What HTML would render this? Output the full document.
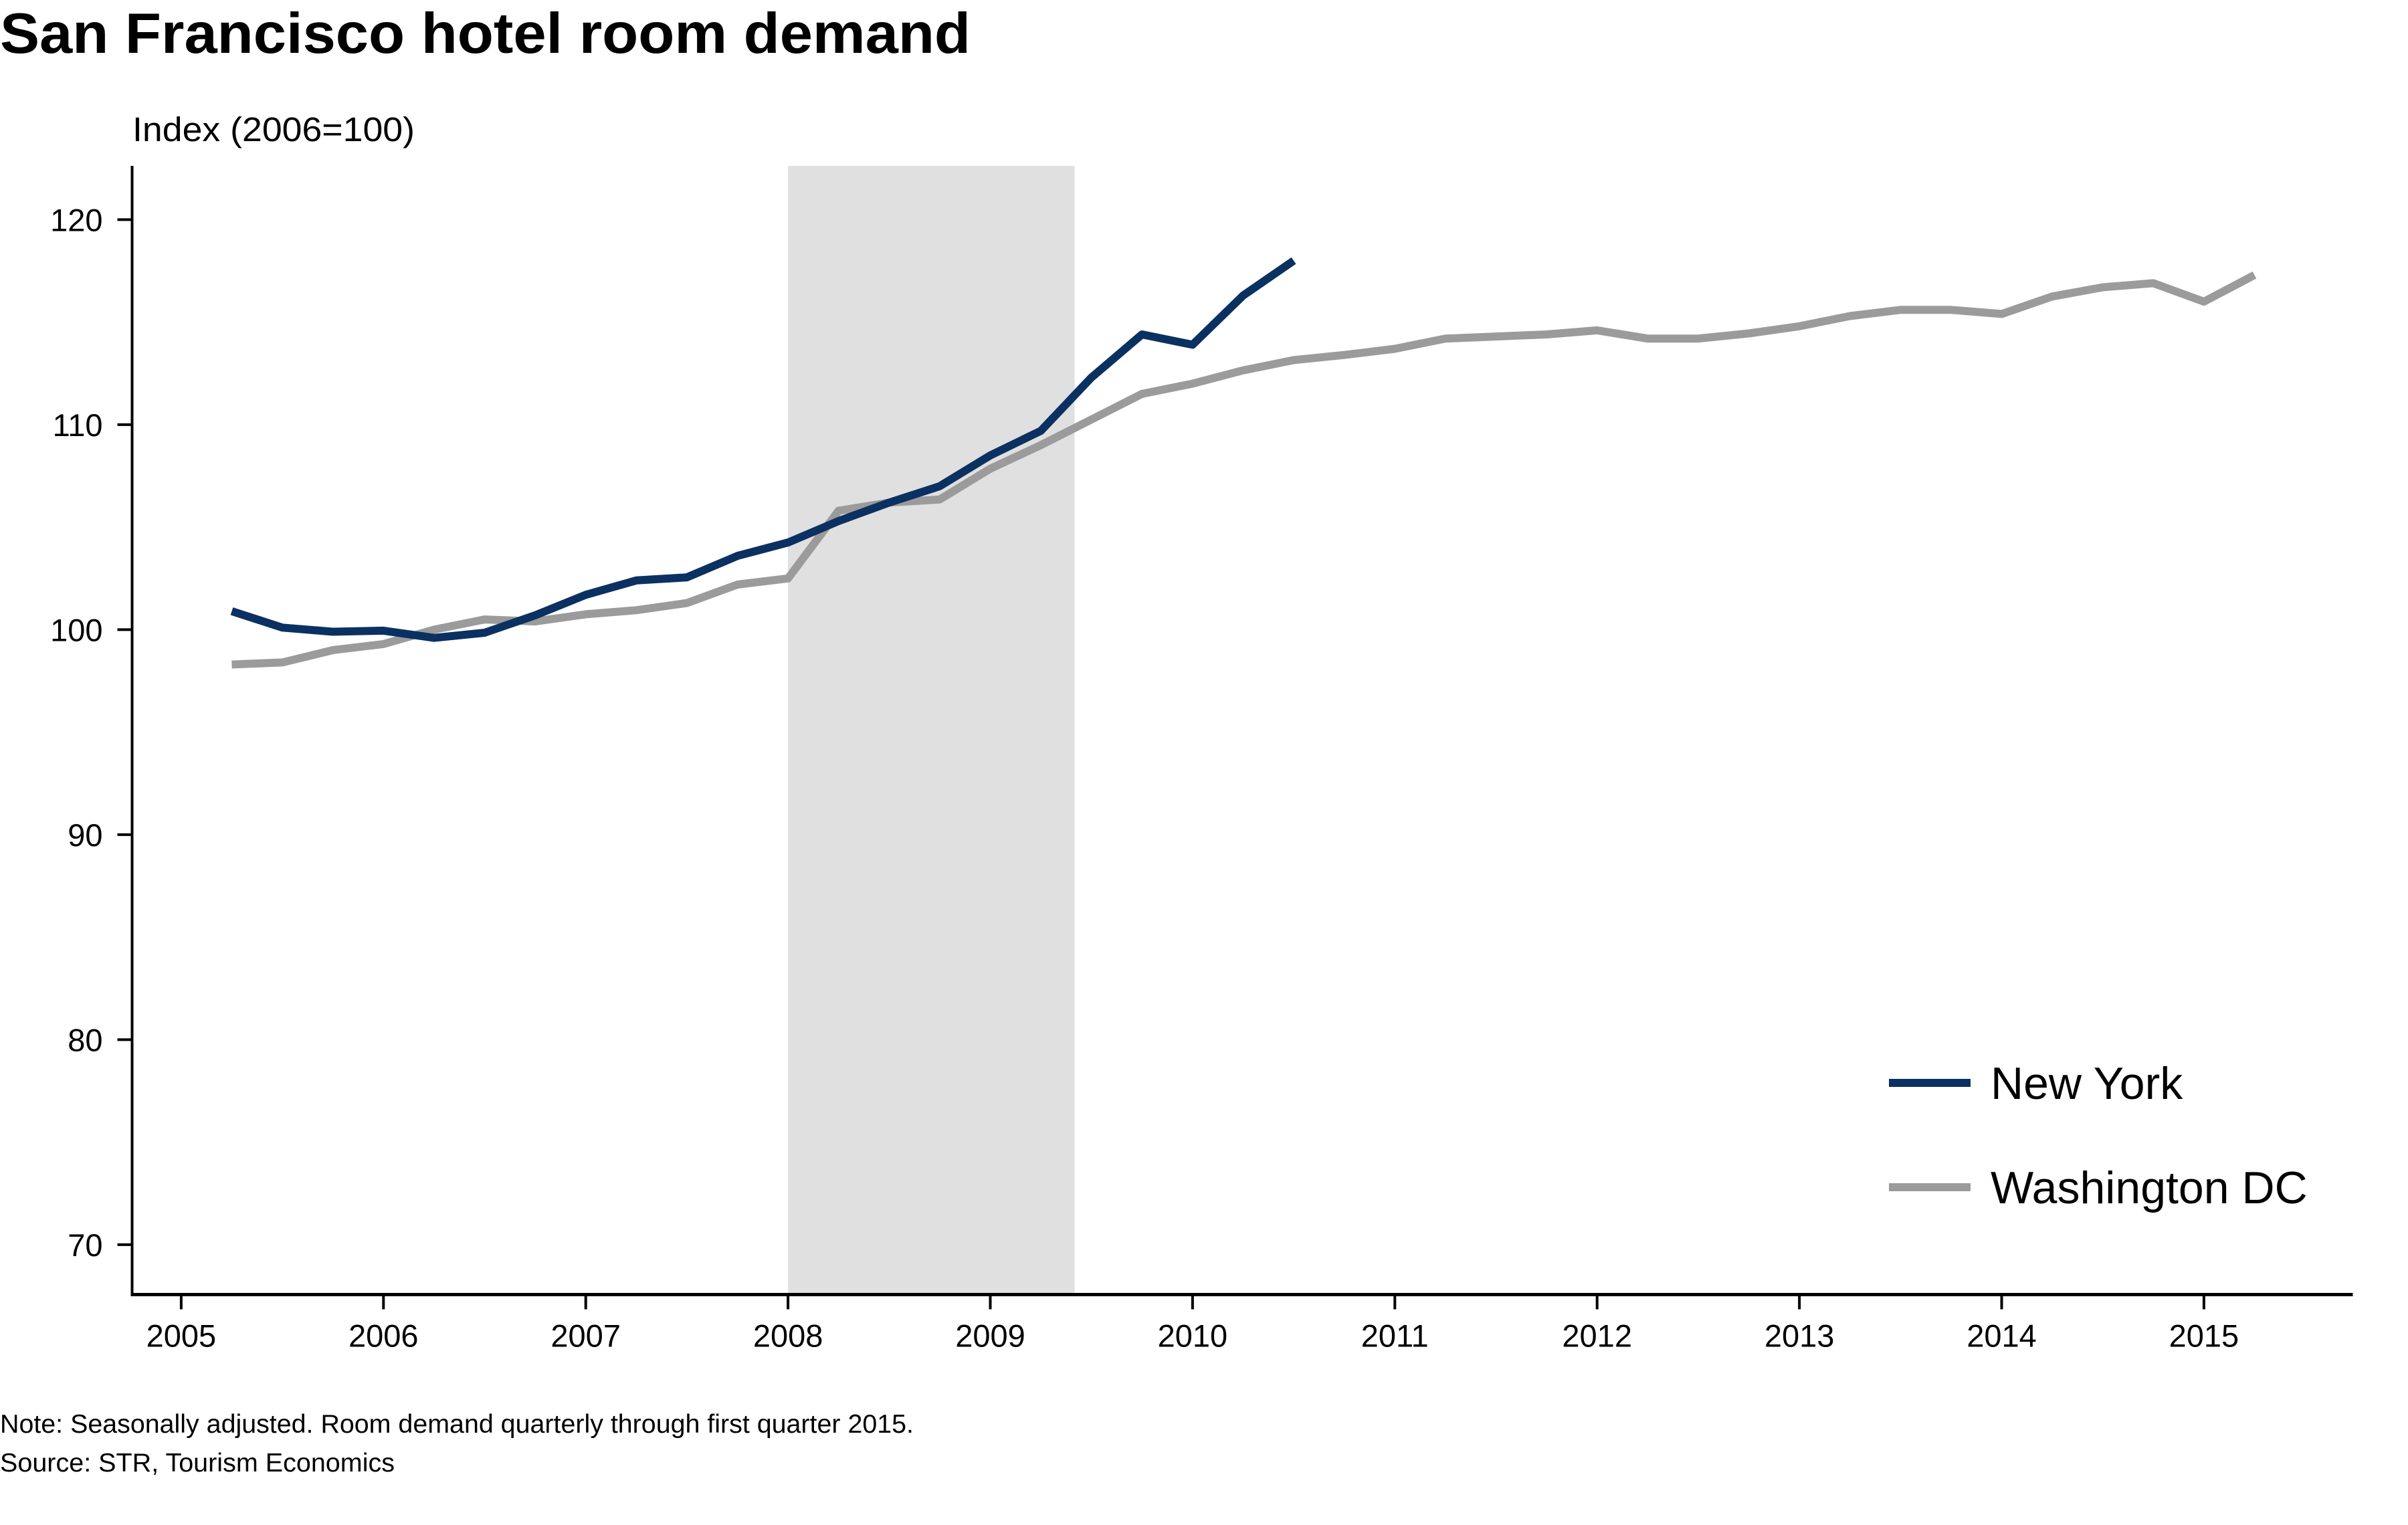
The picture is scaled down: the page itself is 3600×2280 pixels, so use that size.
<!DOCTYPE html>
<html><head><meta charset="utf-8"><style>html,body{margin:0;padding:0;background:#fff}svg{display:block}text{font-family:"Liberation Sans",sans-serif;fill:#000}</style></head>
<body>
<svg id="chart" width="3600" height="2280" viewBox="0 0 3600 2280" xmlns="http://www.w3.org/2000/svg">
<text x="0" y="79" font-size="85" font-weight="bold" textLength="1451" lengthAdjust="spacingAndGlyphs">San Francisco hotel room demand</text>
<text x="198" y="211" font-size="51" textLength="422" lengthAdjust="spacingAndGlyphs">Index (2006=100)</text>
<g id="plot"></g>
<text x="0" y="2142" font-size="39" textLength="1366" lengthAdjust="spacingAndGlyphs">Note: Seasonally adjusted. Room demand quarterly through first quarter 2015.</text>
<text x="0" y="2200" font-size="39" textLength="590" lengthAdjust="spacingAndGlyphs">Source: STR, Tourism Economics</text>
</svg>
<script>
const nyYears=[2005.25,2005.5,2005.75,2006,2006.25,2006.5,2006.75,2007,2007.25,2007.5,2007.75,2008,2008.25,2008.5,2008.75,2009,2009.25,2009.5,2009.75,2010,2010.25,2010.5];
const nyValues=[100.9,100.1,99.9,99.95,99.6,99.85,100.7,101.7,102.4,102.55,103.6,104.25,105.3,106.2,107.0,108.5,109.7,112.3,114.4,113.9,116.3,118.0];
const dcYears=[2005.25,2005.5,2005.75,2006,2006.25,2006.5,2006.75,2007,2007.25,2007.5,2007.75,2008,2008.25,2008.5,2008.75,2009,2009.25,2009.5,2009.75,2010,2010.25,2010.5,2010.75,2011,2011.25,2011.5,2011.75,2012,2012.25,2012.5,2012.75,2013,2013.25,2013.5,2013.75,2014,2014.25,2014.5,2014.75,2015,2015.25];
const dcValues=[98.3,98.4,99.0,99.3,100.0,100.5,100.4,100.75,100.95,101.3,102.2,102.5,105.8,106.2,106.35,107.85,109.0,110.25,111.5,112.0,112.65,113.15,113.4,113.7,114.2,114.3,114.4,114.6,114.2,114.2,114.45,114.8,115.3,115.6,115.6,115.4,116.25,116.7,116.9,116.0,117.3];
const xTicks=[2005,2006,2007,2008,2009,2010,2011,2012,2013,2014,2015];
const yTicks=[70,80,90,100,110,120];
const recession=[2008.0,2009.417];

const NS='http://www.w3.org/2000/svg';
const X0=197.5,X1=3517.5,Y0=248,Y1=1935.5;
const xs=v=>270.9+(v-2005)*302.4;
const ys=v=>941.4+(100-v)*30.65;
const g=document.getElementById('plot');
function mk(tag,attrs){const e=document.createElementNS(NS,tag);for(const k in attrs)e.setAttribute(k,attrs[k]);g.appendChild(e);return e;}

const sh=mk('rect',{x:xs(recession[0]),y:Y0,width:xs(recession[1])-xs(recession[0]),height:Y1-Y0,fill:'#e0e0e0'});



const ya=mk('line',{x1:X0,y1:Y0,x2:X0,y2:Y1+2,stroke:'#000','stroke-width':4});


const xa=mk('line',{x1:X0-2,y1:Y1,x2:X1,y2:Y1,stroke:'#000','stroke-width':5});



yTicks.forEach(t=>{
  const y=ys(t);
  const l=mk('line',{x1:X0-22,y1:y,x2:X0,y2:y,stroke:'#000','stroke-width':4});
  
  
  const tx=mk('text',{x:X0-44,y:y+17,'font-size':47,'text-anchor':'end'});
  tx.textContent=t;
  
  
});
xTicks.forEach(t=>{
  const x=xs(t);
  const l=mk('line',{x1:x,y1:Y1,x2:x,y2:Y1+22,stroke:'#000','stroke-width':4});
  
  
  const tx=mk('text',{x:x,y:Y1+78,'font-size':47,'text-anchor':'middle'});
  tx.textContent=t;
  
  
});

function series(yrs,vals,color,name){
  const d=yrs.map((yr,i)=>(i?'L':'M')+xs(yr).toFixed(1)+','+ys(vals[i]).toFixed(1)).join(' ');
  const p=mk('path',{d:d,fill:'none',stroke:color,'stroke-width':12,'stroke-linejoin':'round'});
  
  
}
series(dcYears,dcValues,'#9b9b9b','washington-dc-line');
series(nyYears,nyValues,'#0a3161','new-york-line');

function legend(y,color,label,name){
  const l=mk('line',{x1:2824,y1:y,x2:2946,y2:y,stroke:color,'stroke-width':12});
  
  
  const t=mk('text',{x:2976,y:y+24,'font-size':68});
  t.textContent=label;
  
  
}
legend(1619,'#0a3161','New York','legend-new-york');
legend(1775,'#9b9b9b','Washington DC','legend-washington-dc');
</script>
</body></html>
